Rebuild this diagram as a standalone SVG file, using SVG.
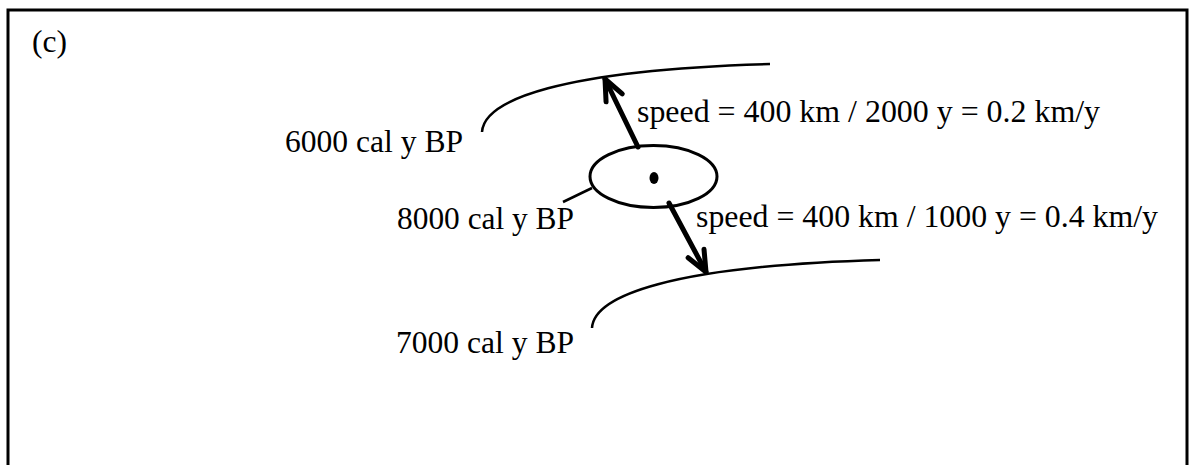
<svg xmlns="http://www.w3.org/2000/svg" width="1191" height="465" viewBox="0 0 1191 465">
<defs>
<style>
text{font-family:"Liberation Serif","Times New Roman",serif;font-size:32px;fill:#000}
.thin{fill:none;stroke:#000;stroke-width:2.5}
.arrow{fill:none;stroke:#000;stroke-width:5;stroke-linecap:round}
</style>
<marker id="ah" markerUnits="userSpaceOnUse" markerWidth="60" markerHeight="60" viewBox="-30 -30 60 60" refX="0" refY="0" orient="auto" overflow="visible">
<path d="M-21,-9 L0,0 L-21,9" fill="none" stroke="#000" stroke-width="5" stroke-linecap="round" stroke-linejoin="round"/>
</marker>
</defs>
<rect width="1191" height="465" fill="#fff"/>
<path d="M8,468 V10 H1187 V468" fill="none" stroke="#000" stroke-width="3"/>
<text x="32" y="52" textLength="35" lengthAdjust="spacingAndGlyphs">(c)</text>
<g id="front6000">
<path class="thin" d="M482,132 C484,100 560,70 770,64"/>
<text x="285" y="152" textLength="178" lengthAdjust="spacingAndGlyphs">6000 cal y BP</text>
</g>
<g id="front7000">
<path class="thin" d="M592,328 C594,296 670,266 880,260"/>
<text x="396" y="353" textLength="178" lengthAdjust="spacingAndGlyphs">7000 cal y BP</text>
</g>
<g id="origin8000">
<ellipse cx="653.5" cy="176.5" rx="63.5" ry="31" fill="none" stroke="#000" stroke-width="3"/>
<ellipse cx="654" cy="178" rx="4.5" ry="6" fill="#000"/>
<line class="thin" x1="563" y1="202" x2="592" y2="188"/>
<text x="397" y="229" textLength="177" lengthAdjust="spacingAndGlyphs">8000 cal y BP</text>
</g>
<g id="connectors">
<line class="arrow" x1="638" y1="147" x2="605" y2="79" marker-end="url(#ah)"/>
<line class="arrow" x1="669" y1="203" x2="706" y2="272" marker-end="url(#ah)"/>
</g>
<g id="labels">
<text x="637" y="122" textLength="463" lengthAdjust="spacingAndGlyphs">speed = 400 km / 2000 y = 0.2 km/y</text>
<text x="696" y="227" textLength="462" lengthAdjust="spacingAndGlyphs">speed = 400 km / 1000 y = 0.4 km/y</text>
</g>
</svg>
